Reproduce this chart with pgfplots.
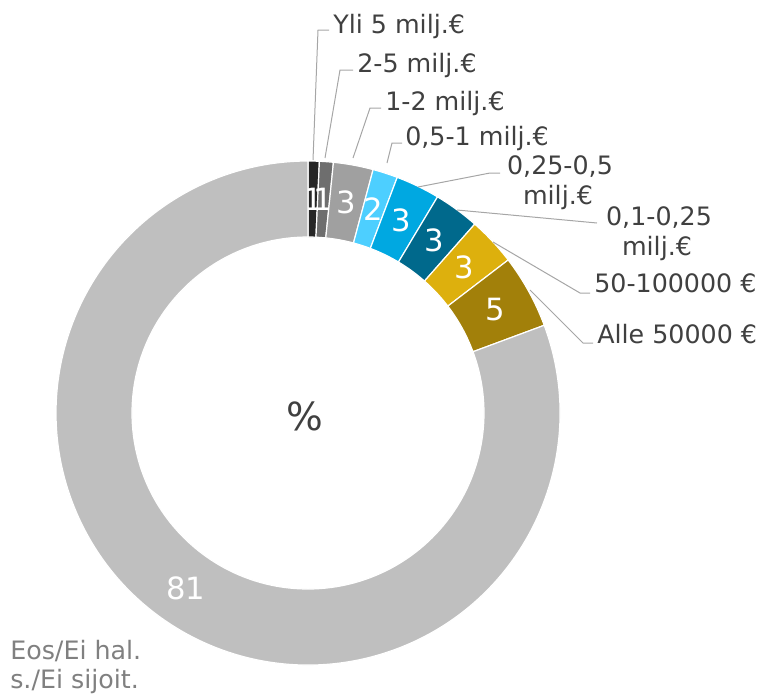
\documentclass[border=0pt]{standalone}
\usepackage{pgfplots}
\pgfplotsset{compat=1.18}
\usepackage{pgfplotstable}
\usepackage{fontspec}
\setmainfont{DejaVu Sans}

\definecolor{slice0}{HTML}{262626}
\definecolor{slice1}{HTML}{6E6E6E}
\definecolor{slice2}{HTML}{A0A0A0}
\definecolor{slice3}{HTML}{4DCFFF}
\definecolor{slice4}{HTML}{00A8E1}
\definecolor{slice5}{HTML}{00698C}
\definecolor{slice6}{HTML}{DDB00D}
\definecolor{slice7}{HTML}{A2800A}
\definecolor{slice8}{HTML}{BFBFBF}
\definecolor{labeltext}{HTML}{404040}
\definecolor{leadergray}{HTML}{A6A6A6}
\definecolor{othergray}{HTML}{808080}

% share of each band, % (clockwise from 12 o'clock); shown = rounded label
\pgfplotstableread{
value shown
0.72  1
0.89  1
2.55  3
1.60  2
2.83  3
2.92  3
3.10  3
4.73  5
80.66 81
}\ringdata

\tikzset{
  ringlbl/.style={text=white, font=\fontsize{23}{26}\selectfont, inner sep=0pt},
  outlbl/.style={text=labeltext, font=\fontsize{19}{23}\selectfont, inner sep=0pt},
  leader/.style={draw=leadergray, line width=0.75pt, mark=none},
}

\begin{document}
\begin{tikzpicture}
\begin{axis}[
  hide axis, scale only axis, disabledatascaling,
  x=0.75pt, y=0.75pt, y dir=reverse,
  xmin=0, xmax=766, ymin=0, ymax=694,
  clip=false,
]
\path (axis cs:0,0) rectangle (axis cs:766,694);
% donut: centre (308,413) px, outer radius 252 px, inner 176 px
\pgfmathsetmacro\cum{0}
\pgfplotsforeachungrouped \i in {0,...,8}{
  \pgfplotstablegetelem{\i}{value}\of\ringdata \let\v\pgfplotsretval
  \pgfplotstablegetelem{\i}{shown}\of\ringdata \let\s\pgfplotsretval
  \pgfmathsetmacro\a{90-3.6*\cum}
  \pgfmathsetmacro\b{90-3.6*(\cum+\v)}
  \pgfmathsetmacro\m{90-3.6*(\cum+\v/2)}
  \pgfmathsetmacro\cum{\cum+\v}
  \edef\temp{\noexpand\fill[fill=slice\i, draw=white, line width=0.9pt]
    ([shift={(\a:189pt)}]axis cs:308,413) arc[start angle=\a, end angle=\b, radius=189pt]
    -- ([shift={(\b:132pt)}]axis cs:308,413) arc[start angle=\b, end angle=\a, radius=132pt] -- cycle;
    \noexpand\node[ringlbl] at ([shift={(\m:160.5pt)}]axis cs:308,413) {\s};}
  \temp
}

% leader lines
\addplot[leader] coordinates {(313,160) (318,30) (329,30)};
\addplot[leader] coordinates {(325,158) (340,70) (353,70)};
\addplot[leader] coordinates {(353,158) (370,108) (381,108)};
\addplot[leader] coordinates {(387,163) (392,143) (402,143)};
\addplot[leader] coordinates {(418,187) (490,173) (500,173)};
\addplot[leader] coordinates {(457,210) (597,223)};
\addplot[leader] coordinates {(493,242) (580,293) (590,293)};
\addplot[leader] coordinates {(530,290) (583,343) (593,343)};

\node[outlbl, anchor=base west] at (axis cs:333,33) {Yli 5 milj.€};
\node[outlbl, anchor=base west] at (axis cs:357,72) {2-5 milj.€};
\node[outlbl, anchor=base west] at (axis cs:385,110) {1-2 milj.€};
\node[outlbl, anchor=base west] at (axis cs:405,145) {0,5-1 milj.€};
\node[outlbl, anchor=base] at (axis cs:560,174) {0,25-0,5};
\node[outlbl, anchor=base] at (axis cs:558,204) {milj.€};
\node[outlbl, anchor=base] at (axis cs:659,225) {0,1-0,25};
\node[outlbl, anchor=base] at (axis cs:657,255) {milj.€};
\node[outlbl, anchor=base west] at (axis cs:594,292) {50-100000 €};
\node[outlbl, anchor=base west] at (axis cs:597,343) {Alle 50000 €};
\node[outlbl, text=othergray, anchor=base west] at (axis cs:10,659) {Eos/Ei hal.};
\node[outlbl, text=othergray, anchor=base west] at (axis cs:10,688) {s./Ei sijoit.};

\node[text=labeltext, font=\fontsize{29}{32}\selectfont, inner sep=0pt] at (axis cs:305,416) {\%};
\end{axis}
\end{tikzpicture}
\end{document}
